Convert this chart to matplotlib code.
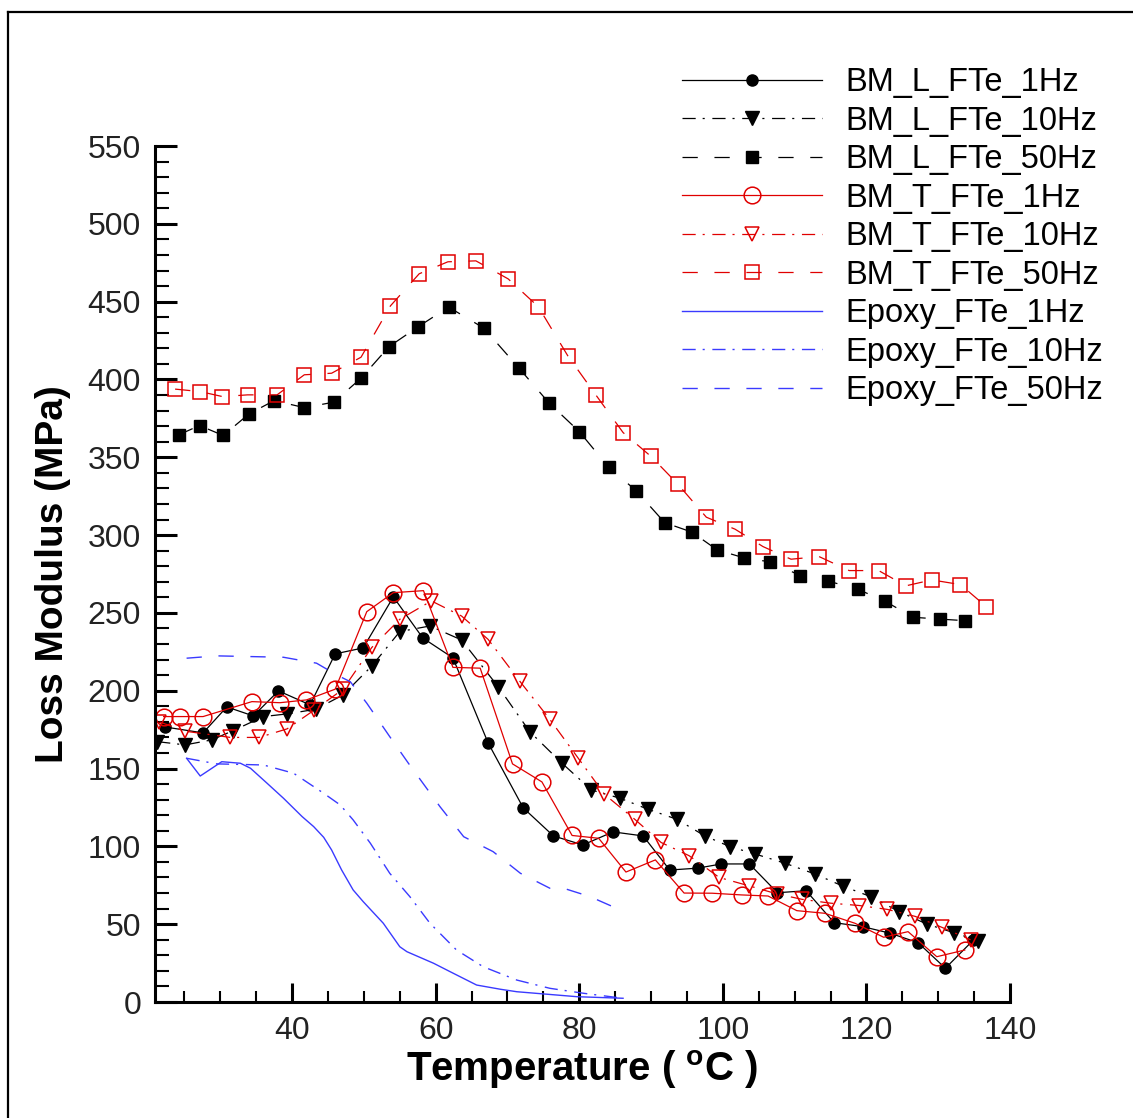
import numpy as np
import matplotlib
matplotlib.use('Agg')
import matplotlib.pyplot as plt
from matplotlib.lines import Line2D

plt.rcParams['font.family'] = ['Liberation Sans', 'DejaVu Sans']
plt.rcParams['mathtext.fontset'] = 'custom'
plt.rcParams['mathtext.rm'] = 'Liberation Sans'
plt.rcParams['mathtext.bf'] = 'Liberation Sans:bold'
plt.rcParams['lines.scale_dashes'] = False

# ---- data (temperature in degC, loss modulus in MPa) ----
T_L1 = [22.3, 27.6, 30.9, 34.6, 38.1, 42.5, 46.0, 49.9, 54.1, 58.2, 62.4, 67.3,
        72.2, 76.4, 80.5, 84.7, 88.9, 92.6, 96.5, 99.8, 103.7, 107.6, 111.6,
        115.5, 119.5, 123.3, 127.2, 131.0, 134.9]
E_L1 = [176.7, 172.9, 189.6, 183.8, 199.9, 190.9, 223.7, 227.5, 260.3, 233.9,
        221.1, 166.5, 124.7, 106.7, 100.9, 109.3, 106.7, 84.8, 86.0, 88.7, 88.7,
        70.2, 71.5, 51.0, 48.4, 44.2, 38.1, 21.7, 39.8]

T_L10 = [21.2, 25.1, 28.8, 31.8, 36.0, 39.3, 43.3, 47.1, 51.1, 55.0, 59.2, 63.6,
         68.7, 73.1, 77.6, 81.7, 85.7, 89.6, 93.6, 97.5, 101.0, 104.5, 108.7,
         112.8, 116.7, 120.6, 124.6, 128.4, 132.2, 135.6]
E_L10 = [167.3, 165.2, 168.4, 174.4, 183.4, 185.1, 188.1, 197.3, 215.9, 238.0,
         241.6, 232.6, 202.6, 173.7, 153.4, 136.2, 130.9, 123.8, 117.4, 106.7,
         99.8, 95.1, 89.1, 82.3, 74.5, 67.7, 58.0, 50.1, 44.5, 39.4]

T_L50 = [24.2, 27.1, 30.4, 34.0, 37.5, 41.7, 45.8, 49.6, 53.5, 57.6, 61.8, 66.7,
         71.6, 75.8, 80.0, 84.1, 87.9, 91.9, 95.7, 99.2, 103.0, 106.6, 110.8,
         114.7, 118.8, 122.6, 126.5, 130.3, 133.8]
E_L50 = [364.4, 370.4, 364.0, 377.9, 386.4, 381.9, 385.4, 400.8, 421.1, 434.0,
         446.5, 433.0, 407.3, 384.8, 366.5, 343.6, 328.6, 308.0, 301.9, 290.5,
         285.3, 282.8, 274.0, 270.4, 265.2, 257.5, 247.2, 246.0, 245.0]

T_T1 = [22.1, 24.4, 27.6, 34.4, 38.3, 42.0, 46.0, 50.4, 54.1, 58.3, 62.4, 66.2,
        70.7, 74.8, 79.0, 82.7, 86.5, 90.6, 94.6, 98.5, 102.6, 106.3, 110.3,
        114.2, 118.4, 122.4, 125.8, 129.8, 133.7]
E_T1 = [183.4, 183.4, 183.4, 193.0, 192.3, 194.1, 201.0, 250.8, 263.0, 264.3,
        215.0, 214.5, 153.0, 141.4, 107.0, 105.2, 83.5, 91.3, 70.0, 69.9, 68.8,
        68.1, 58.7, 57.0, 50.6, 41.6, 45.2, 29.1, 33.4]

T_T10 = [21.5, 25.1, 31.4, 35.4, 39.3, 43.0, 47.1, 51.1, 55.0, 59.4, 63.6, 67.3,
         71.7, 75.9, 79.8, 83.5, 87.7, 91.4, 95.3, 99.5, 103.6, 107.5, 111.0,
         115.0, 119.0, 122.9, 126.8, 130.5, 134.5]
E_T10 = [180.0, 174.0, 170.0, 170.0, 175.5, 187.3, 201.0, 227.8, 245.9, 257.7,
         248.0, 233.0, 206.2, 181.6, 157.0, 133.5, 117.5, 102.5, 94.0, 80.0,
         74.7, 69.5, 66.0, 63.5, 62.0, 59.5, 55.0, 48.0, 40.0]

T_T50 = [23.7, 27.2, 30.3, 33.8, 37.9, 41.7, 45.5, 49.6, 53.7, 57.7, 61.7, 65.6,
         70.1, 74.3, 78.4, 82.3, 86.1, 90.0, 93.7, 97.7, 101.7, 105.6, 109.5,
         113.4, 117.6, 121.7, 125.5, 129.1, 133.1, 136.7]
E_T50 = [393.8, 392.2, 389.0, 390.1, 390.1, 403.0, 404.0, 414.3, 447.3, 467.9,
         475.6, 476.2, 464.6, 446.7, 415.2, 390.1, 365.9, 350.5, 332.9, 311.5,
         303.8, 292.6, 284.5, 286.2, 277.2, 277.2, 267.4, 271.2, 268.2, 254.0]

T_E1 = [25.3, 27.2, 30.2, 32.8, 34.2, 36.5, 38.8, 41.4, 43.0, 44.4, 45.5, 46.9,
        48.5, 49.9, 52.7, 55.0, 56.0, 59.7, 62.0, 65.7, 69.0, 71.3, 79.7, 86.1]
E_E1 = [156.6, 145.2, 154.4, 153.4, 150.2, 140.6, 130.9, 119.1, 112.7, 105.8,
        97.7, 84.8, 72.0, 64.5, 50.6, 35.5, 32.3, 24.9, 19.5, 10.9, 8.2, 6.6,
        3.4, 2.4]

T_E10 = [25.3, 29.5, 36.0, 40.2, 44.4, 46.7, 48.5, 50.9, 53.6, 56.4, 59.2, 62.9,
         66.6, 71.3, 75.9, 80.6, 86.1]
E_E10 = [156.6, 153.0, 152.3, 147.0, 134.1, 126.6, 117.0, 102.0, 82.7, 67.7,
         50.6, 33.4, 22.7, 14.1, 8.8, 5.6, 2.4]

T_E50 = [25.3, 29.5, 38.8, 43.4, 46.2, 48.1, 50.4, 53.6, 56.2, 60.6, 63.9, 68.0,
         71.8, 75.9, 77.8, 81.5, 84.7]
E_E50 = [220.9, 222.4, 221.5, 217.7, 210.2, 205.8, 192.0, 170.5, 153.4, 125.5,
         106.2, 96.6, 82.7, 73.1, 73.1, 67.7, 61.2]

RED = '#e00000'
BLUE = '#3a3aff'
DASH = (0, (11, 12))
DASHDOT = (0, (9.5, 5, 1.5, 5.5))

fig = plt.figure(figsize=(11.33, 11.18), dpi=100)
ax = fig.add_axes([155 / 1133, 1 - 1002 / 1118, (1010 - 155) / 1133, (1002 - 146) / 1118])

ax.plot(T_L1, E_L1, color='black', ls='-', lw=0.9, marker='o', ms=8,
        label='BM_L_FTe_1Hz')
ax.plot(T_L10, E_L10, color='black', ls=DASHDOT, lw=0.9, marker='v', ms=10,
        label='BM_L_FTe_10Hz')
ax.plot(T_L50, E_L50, color='black', ls=DASH, lw=0.9, marker='s', ms=9,
        label='BM_L_FTe_50Hz')
ax.plot(T_T1, E_T1, color=RED, ls='-', lw=0.9, marker='o', ms=12, mfc='none',
        mew=1.1, label='BM_T_FTe_1Hz')
ax.plot(T_T10, E_T10, color=RED, ls=DASHDOT, lw=0.9, marker='v', ms=10, mfc='none',
        mew=1.1, label='BM_T_FTe_10Hz')
ax.plot(T_T50, E_T50, color=RED, ls=DASH, lw=0.9, marker='s', ms=9.5, mfc='none',
        mew=1.1, label='BM_T_FTe_50Hz')
ax.plot(T_E1, E_E1, color=BLUE, ls='-', lw=1.0, label='Epoxy_FTe_1Hz')
ax.plot(T_E10, E_E10, color=BLUE, ls=DASHDOT, lw=1.0, label='Epoxy_FTe_10Hz')
ax.plot(T_E50, E_E50, color=BLUE, ls=DASH, lw=1.0, label='Epoxy_FTe_50Hz')

ax.set_xlim(20.9, 140)
ax.set_ylim(0, 550)
ax.set_xticks(np.arange(40, 141, 20))
ax.set_xticks(np.arange(25, 140, 5), minor=True)
ax.set_yticks(np.arange(0, 551, 50))
ax.set_yticks(np.arange(0, 551, 10), minor=True)

for s in ['top', 'right']:
    ax.spines[s].set_visible(False)
for s in ['left', 'bottom']:
    ax.spines[s].set_linewidth(2.2)
ax.tick_params(axis='both', which='both', direction='in', labelsize=23,
               labelcolor='#222222')
ax.tick_params(axis='x', which='major', length=14, width=2.2, pad=10)
ax.tick_params(axis='x', which='minor', length=8, width=1.5)
ax.tick_params(axis='y', which='major', length=16, width=2.2, pad=10)
ax.tick_params(axis='y', which='minor', length=10, width=1.5)

ax.set_xlabel('Temperature ( $^{\\mathbf{o}}$C )', fontsize=29, fontweight='bold',
              labelpad=2)
ax.set_ylabel('Loss Modulus (MPa)', fontsize=28, fontweight='bold', labelpad=12)

leg = ax.legend(loc='upper left', bbox_to_anchor=(682 / 1133, 1 - 67 / 1118),
                bbox_transform=fig.transFigure, frameon=False, fontsize=23.5,
                handlelength=4.3, handletextpad=0.72, labelspacing=0.23,
                borderpad=0, borderaxespad=0, numpoints=1)

# outer frame of the figure
fig.add_artist(Line2D([8 / 1133, 8 / 1133], [0, 1 - 12 / 1118], color='black',
                      lw=1.6, transform=fig.transFigure))
fig.add_artist(Line2D([8 / 1133, 1], [1 - 12 / 1118, 1 - 12 / 1118], color='black',
                      lw=1.6, transform=fig.transFigure))

fig.savefig('out.png', dpi=100)
